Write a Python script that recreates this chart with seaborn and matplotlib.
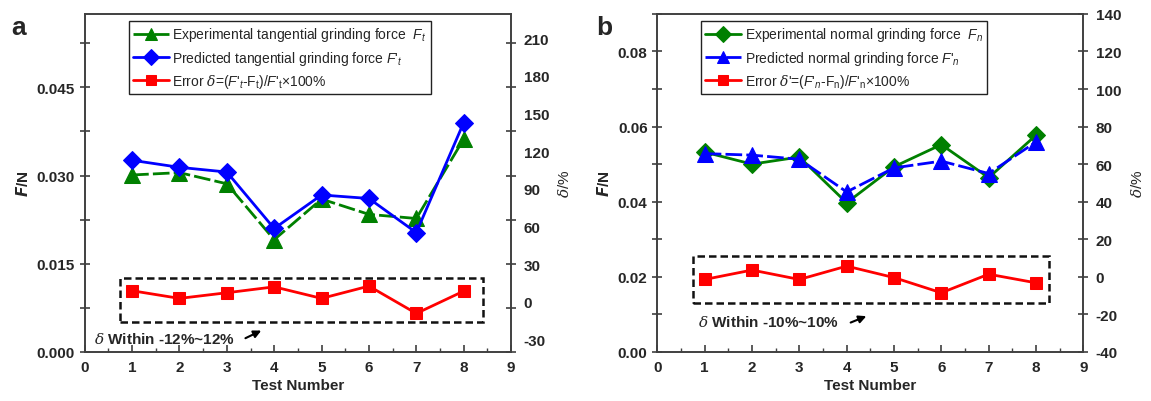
import matplotlib
matplotlib.use("Agg")
import matplotlib.pyplot as plt
import seaborn as sns
import numpy as np
from matplotlib.patches import Rectangle
from matplotlib.ticker import MultipleLocator, FormatStrFormatter

# ---------------- data ----------------
tests = [1, 2, 3, 4, 5, 6, 7, 8]

# panel a (tangential force, N)
ft_exp = [0.0301, 0.0305, 0.0286, 0.0191, 0.0260, 0.0234, 0.0227, 0.0362]
ft_pred = [0.0326, 0.0314, 0.0306, 0.0210, 0.0267, 0.0261, 0.0203, 0.0390]
ft_err = [8.8, 2.7, 7.2, 11.9, 2.7, 12.5, -9.3, 8.5]

# panel b (normal force, N)
fn_exp = [0.0532, 0.0500, 0.0519, 0.0397, 0.0493, 0.0552, 0.0464, 0.0577]
fn_pred = [0.0528, 0.0524, 0.0513, 0.0426, 0.0490, 0.0508, 0.0475, 0.0559]
fn_err = [-1.4, 3.6, -1.4, 5.7, -0.4, -8.5, 1.4, -3.2]

labels_a = [r"Experimental tangential grinding force  $F_t$",
            r"Predicted tangential grinding force $F$'$_t$",
            r"Error $\mathsf{\delta}$=($F$'$_t$-F$_\mathrm{t}$)/$F$'$_\mathrm{t}$×100%"]
labels_b = [r"Experimental normal grinding force  $F_n$",
            r"Predicted normal grinding force $F$'$_n$",
            r"Error $\mathsf{\delta}$'=($F$'$_n$-F$_\mathrm{n}$)/$F$'$_\mathrm{n}$×100%"]

sns.set_style("ticks")
plt.rcParams["font.family"] = ["Liberation Sans", "DejaVu Sans"]
plt.rcParams["axes.unicode_minus"] = False
plt.rcParams["mathtext.fontset"] = "custom"
plt.rcParams["mathtext.rm"] = "Liberation Sans"
plt.rcParams["mathtext.it"] = "Liberation Sans:italic"
plt.rcParams["mathtext.bf"] = "Liberation Sans:bold"
plt.rcParams["mathtext.sf"] = "DejaVu Serif:italic"

GREEN = "#008000"
BLUE = "#0000ff"
RED = "#ff0000"
SPINE = "#404040"

fig = plt.figure(figsize=(11.51, 4.02), dpi=100)
ax_a = fig.add_axes([0.0736, 0.122, 0.3704, 0.841])
ax_b = fig.add_axes([0.5711, 0.122, 0.3701, 0.841])


def style_axes(ax, ax2):
    for a in (ax, ax2):
        for s in a.spines.values():
            s.set_color(SPINE)
            s.set_linewidth(1.2)
    ax.set_xlim(0, 9)
    ax.xaxis.set_major_locator(MultipleLocator(1))
    ax.xaxis.set_minor_locator(MultipleLocator(0.5))
    ax.tick_params(axis="x", which="major", direction="in", length=5, width=1.2,
                   color=SPINE, labelsize=11, pad=6)
    ax.tick_params(axis="x", which="minor", direction="in", length=3, width=1.0, color=SPINE)
    ax.tick_params(axis="y", which="both", direction="inout", length=7, width=1.2,
                   color=SPINE, labelsize=11, right=True, left=True)
    for lab in ax.get_xticklabels() + ax.get_yticklabels():
        lab.set_fontweight("bold")
    ax2.tick_params(axis="y", which="both", length=0, labelsize=11, pad=9)
    for lab in ax2.get_yticklabels():
        lab.set_fontweight("bold")
    ax.set_xlabel("Test Number", fontsize=11, fontweight="bold", labelpad=3)
    ax.set_ylabel(r"$\mathbfit{F}$/N", fontsize=11, fontweight="bold")
    ax2.set_ylabel(r"$\mathsf{\delta}$/%", fontsize=11, labelpad=6)


def draw_panel(ax, exp, pred, err, m_exp, m_pred, ls_exp, ls_pred, ylim, ymaj, ymin, fmt,
               ylim2, yticks2, box, labels, note, arrow, note_xy, letter, letter_x):
    ax2 = ax.twinx()
    sns.lineplot(x=tests, y=exp, ax=ax, color=GREEN, marker=m_exp,
                 markersize=9.5 if m_exp == "D" else 11, markeredgecolor=GREEN,
                 linewidth=2, linestyle=ls_exp, legend=False)
    sns.lineplot(x=tests, y=pred, ax=ax, color=BLUE, marker=m_pred,
                 markersize=9.5 if m_pred == "D" else 11, markeredgecolor=BLUE,
                 linewidth=2, linestyle=ls_pred, legend=False)
    sns.lineplot(x=tests, y=err, ax=ax2, color=RED, marker="s", markersize=8.5,
                 markeredgecolor=RED, linewidth=2, legend=False)
    ax.set_ylim(*ylim)
    ax.yaxis.set_major_locator(MultipleLocator(ymaj))
    ax.yaxis.set_minor_locator(MultipleLocator(ymin))
    ax.yaxis.set_major_formatter(FormatStrFormatter(fmt))
    ax2.set_ylim(*ylim2)
    ax2.set_yticks(yticks2)
    style_axes(ax, ax2)

    x0, x1, y0, y1 = box
    ax2.add_patch(Rectangle((x0, y0), x1 - x0, y1 - y0, fill=False, edgecolor="#111111",
                            linewidth=1.8, linestyle=(0, (3, 1.6))))
    ax2.text(note_xy[0], note_xy[1], note, fontsize=11, fontweight="bold",
             va="center", ha="left")
    ax2.annotate("", xy=arrow[1], xytext=arrow[0],
                 arrowprops=dict(arrowstyle="-|>", color="black", lw=1.5,
                                 mutation_scale=11))

    handles = ax.get_lines()[:2] + ax2.get_lines()[:1]
    leg = ax2.legend(handles, labels, loc="upper left", bbox_to_anchor=(0.103, 0.978),
                     fontsize=10, frameon=True, fancybox=False, edgecolor="#222222",
                     framealpha=1, handlelength=2.6, labelspacing=0.38, markerscale=0.85,
                     borderpad=0.3, handletextpad=0.25, borderaxespad=0)
    leg.get_frame().set_linewidth(1.0)
    fig.text(letter_x, 0.93, letter, fontsize=19, fontweight="bold", ha="center", va="center")
    return ax2


draw_panel(ax_a, ft_exp, ft_pred, ft_err, "^", "D", (0, (6, 1.5)), "-",
           (0, 0.0575), 0.015, 0.0075, "%.3f",
           (-40, 229.5), [-30, 0, 30, 60, 90, 120, 150, 180, 210],
           (0.75, 8.4, -16.5, 19.0), labels_a,
           r"$\mathsf{\delta}$ Within -12%~12%", ((3.34, -30.0), (3.78, -22.0)),
           (0.2, -29.5), "a", 0.016)

draw_panel(ax_b, fn_exp, fn_pred, fn_err, "D", "^", "-", (0, (6, 1.5)),
           (0, 0.09), 0.02, 0.01, "%.2f",
           (-40, 140), [-40, -20, 0, 20, 40, 60, 80, 100, 120, 140],
           (0.76, 8.28, -13.9, 11.0), labels_b,
           r"$\mathsf{\delta}$ Within -10%~10%", ((4.03, -24.9), (4.47, -20.4)),
           (0.86, -24.0), "b", 0.525)

fig.savefig("out.png", dpi=100)
